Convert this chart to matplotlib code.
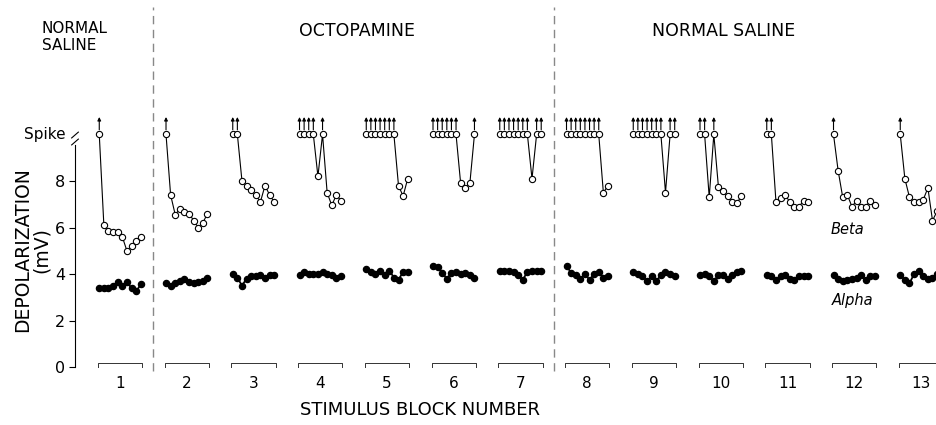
import matplotlib
matplotlib.use('Agg')
import matplotlib.pyplot as plt
import numpy as np

SPIKE = 10.0

blocks = list(range(1, 14))
block_labels = ['1', '2', '3', '4', '5', '6', '7', '8', '9', '10', '11', '12', '13']

# beta (open circles), 10 stimuli per block, SPIKE = cell fired a spike
beta = [
    [SPIKE, 6.1, 5.85, 5.8, 5.8, 5.6, 5.0, 5.2, 5.4, 5.6],
    [SPIKE, 7.4, 6.55, 6.8, 6.65, 6.6, 6.3, 6.0, 6.2, 6.6],
    [SPIKE, SPIKE, 8.0, 7.8, 7.6, 7.4, 7.1, 7.8, 7.4, 7.1],
    [SPIKE, SPIKE, SPIKE, SPIKE, 8.2, SPIKE, 7.5, 6.95, 7.4, 7.15],
    [SPIKE, SPIKE, SPIKE, SPIKE, SPIKE, SPIKE, SPIKE, 7.8, 7.35, 8.1],
    [SPIKE, SPIKE, SPIKE, SPIKE, SPIKE, SPIKE, 7.9, 7.7, 7.9, SPIKE],
    [SPIKE, SPIKE, SPIKE, SPIKE, SPIKE, SPIKE, SPIKE, 8.1, SPIKE, SPIKE],
    [SPIKE, SPIKE, SPIKE, SPIKE, SPIKE, SPIKE, SPIKE, SPIKE, 7.5, 7.8],
    [SPIKE, SPIKE, SPIKE, SPIKE, SPIKE, SPIKE, SPIKE, 7.5, SPIKE, SPIKE],
    [SPIKE, SPIKE, 7.3, SPIKE, 7.75, 7.55, 7.35, 7.1, 7.05, 7.35],
    [SPIKE, SPIKE, 7.1, 7.25, 7.4, 7.1, 6.9, 6.9, 7.15, 7.1],
    [SPIKE, 8.45, 7.3, 7.4, 6.9, 7.15, 6.9, 6.9, 7.15, 6.95],
    [SPIKE, 8.1, 7.3, 7.1, 7.1, 7.2, 7.7, 6.3, 6.7, 7.7],
]

# alpha (filled circles)
alpha = [
    [3.4, 3.4, 3.4, 3.5, 3.65, 3.5, 3.65, 3.4, 3.25, 3.55],
    [3.6, 3.5, 3.6, 3.7, 3.8, 3.65, 3.6, 3.65, 3.7, 3.85],
    [4.0, 3.85, 3.5, 3.8, 3.9, 3.9, 3.95, 3.85, 3.95, 3.95],
    [3.95, 4.1, 4.0, 4.0, 4.0, 4.1, 4.0, 3.95, 3.85, 3.9],
    [4.2, 4.1, 4.0, 4.15, 3.95, 4.15, 3.85, 3.75, 4.1, 4.1],
    [4.35, 4.3, 4.05, 3.8, 4.05, 4.1, 4.0, 4.05, 3.95, 3.85],
    [4.15, 4.15, 4.15, 4.1, 3.95, 3.75, 4.1, 4.15, 4.15, 4.15],
    [4.35, 4.05, 3.95, 3.8, 4.0, 3.75, 4.0, 4.1, 3.85, 3.9],
    [4.1, 4.0, 3.9, 3.7, 3.9, 3.7, 3.95, 4.1, 4.0, 3.9],
    [3.95, 4.0, 3.9, 3.7, 3.95, 3.95, 3.8, 3.95, 4.1, 4.15],
    [3.95, 3.9, 3.75, 3.9, 3.95, 3.8, 3.75, 3.9, 3.9, 3.9],
    [3.95, 3.8, 3.7, 3.75, 3.8, 3.85, 3.95, 3.75, 3.9, 3.9],
    [3.95, 3.75, 3.6, 4.0, 4.15, 3.9, 3.8, 3.85, 4.0, 3.85],
]

condition_breaks = [1.5, 7.5]
conditions = ['NORMAL\nSALINE', 'OCTOPAMINE', 'NORMAL SALINE']

plt.rcParams['font.family'] = ['DejaVu Sans']

fig = plt.figure(figsize=(9.37, 4.25), dpi=100)
ax = fig.add_axes([75 / 937, 0, 1 - 75 / 937, 1])
ax.set_xlim(0.326, 13.24)
ax.set_ylim(-2.49, 15.78)

step = 0.069
for b, yb, ya in zip(blocks, beta, alpha):
    xs = b + (np.arange(len(yb)) - (len(yb) - 1) / 2) * step
    ax.plot(xs, yb, '-o', color='black', lw=0.8, ms=4.5, mfc='white',
            mec='black', mew=0.8, clip_on=False, zorder=3)
    ax.plot(xs, ya, '-o', color='black', lw=1.3, ms=4.4, mfc='black',
            mec='black', clip_on=False, zorder=3)
    for x, v in zip(xs, yb):
        if v == SPIKE:
            ax.annotate('', xy=(x, 10.75), xytext=(x, 10.2),
                        arrowprops=dict(arrowstyle='-|>', lw=0.8, color='black',
                                        mutation_scale=5, shrinkA=0, shrinkB=0))
    # bracket under each block
    half = 0.33
    ax.plot([b - half, b - half, b + half, b + half], [0.02, 0.17, 0.17, 0.02],
            color='#333333', lw=0.7, clip_on=False)
    ax.text(b, -0.7, block_labels[b - 1], ha='center', va='center', fontsize=11)

for xb in condition_breaks:
    ax.plot([xb, xb], [-0.15, 15.5], color='#888888', lw=1.0,
            dashes=(6, 4), clip_on=False)

ax.text(-0.17, 14.2, conditions[0], ha='left', va='center', fontsize=11,
        linespacing=1.15)
ax.text(4.55, 14.45, conditions[1], ha='center', va='center', fontsize=12.5)
ax.text(10.05, 14.45, conditions[2], ha='center', va='center', fontsize=12.5)

ax.text(5.5, -1.85, 'STIMULUS BLOCK NUMBER', ha='center', va='center', fontsize=13)
ax.text(11.9, 5.9, 'Beta', ha='center', va='center', fontsize=10.5, style='italic')
ax.text(11.98, 2.85, 'Alpha', ha='center', va='center', fontsize=10.5, style='italic')

# y axis
for s in ['top', 'right', 'bottom']:
    ax.spines[s].set_visible(False)
ax.spines['left'].set_bounds(0, 9.55)
ax.spines['left'].set_linewidth(0.8)
ax.set_xticks([])
ax.set_yticks([0, 2, 4, 6, 8])
ax.tick_params(axis='y', length=4, width=0.8, labelsize=11.5, pad=3)
ax.text(0.18, SPIKE, 'Spike', ha='right', va='center', fontsize=11)
x0 = 0.326
for dy in (0.0, 0.3):
    ax.plot([x0 - 0.05, x0 + 0.05], [9.55 + dy, 9.8 + dy], color='black',
            lw=0.8, clip_on=False)
ax.text(-0.32, 5.05, 'DEPOLARIZATION\n(mV)', ha='center', va='center',
        rotation=90, fontsize=13.5, linespacing=1.0)

fig.savefig('out.png', dpi=100)
